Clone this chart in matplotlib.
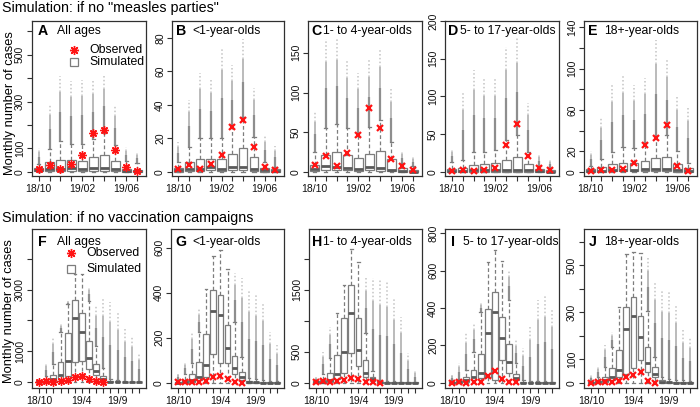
import matplotlib
matplotlib.use('Agg')
import matplotlib.pyplot as plt
import numpy as np

plt.rcParams['font.family'] = ['Liberation Sans', 'DejaVu Sans']

W, H = 700, 407

# ---------------- data ----------------
months_top = ['18/10', '18/11', '18/12', '19/01', '19/02', '19/03', '19/04', '19/05', '19/06', '19/07']
months_bot = ['18/10', '18/11', '18/12', '19/1', '19/2', '19/3', '19/4', '19/5', '19/6', '19/7',
              '19/8', '19/9', '19/10', '19/11', '19/12']
top_shown = ['18/10', '19/02', '19/06']
bot_shown = ['18/10', '19/4', '19/9']

groups = ['All ages', '<1-year-olds', '1- to 4-year-olds', '5- to 17-year-olds', '18+-year-olds']

# observed monthly cases (18/10 .. 19/07)
obs_all = [10, 28, 13, 35, 70, 165, 180, 95, 20, 5]
obs_lt1 = [2, 4, 2, 5, 10, 27, 31, 15, 3, 1]
obs_1to4 = [9, 20, 8, 24, 47, 81, 56, 17, 8, 3]
obs_5to17 = [1, 2, 1, 3, 5, 36, 63, 21, 5, 2]
obs_18p = [1, 2, 2, 3, 9, 26, 33, 45, 6, 1]

# Simulation: no "measles parties"
A_q1 = [2, 3, 4, 4, 3, 4, 4, 2, 0, 0]
A_med = [6, 12, 12, 15, 12, 15, 15, 10, 3, 2]
A_q3 = [15, 40, 51, 51, 47, 63, 71, 47, 11, 8]
A_whi = [35, 98, 130, 118, 118, 140, 165, 113, 48, 37]
A_max = [100, 290, 410, 386, 393, 396, 419, 279, 105, 84]

B_q1 = [0, 0.5, 0.5, 1, 0.5, 1, 1, 0.5, 0, 0]
B_med = [1, 2, 2, 3, 2, 3, 3, 1.5, 1, 0.5]
B_q3 = [2.6, 6, 8, 8, 8, 11, 14, 9, 2.5, 1.5]
B_whi = [6, 15, 20, 20, 20, 26, 33, 21, 6, 3]
B_max = [17.6, 43, 59, 56, 74, 64, 79, 50, 22, 15.6]

C_q1 = [1, 2, 2, 2, 1, 2, 1, 1, 0, 0]
C_med = [4, 7, 6, 5, 4, 6, 5, 3, 1, 0.5]
C_q3 = [9, 22, 25, 21, 18, 23, 27, 16, 4.5, 2.5]
C_whi = [25, 55, 60, 55, 45, 57, 66, 38, 11, 7]
C_max = [76, 167, 168, 140, 125, 141, 154, 105, 26, 19]

D_q1 = [0, 0, 0, 0, 0, 0.5, 0.5, 0, 0, 0]
D_med = [1, 1, 2, 2, 2, 3, 3, 2, 1, 0.5]
D_q3 = [4, 5, 9, 10.6, 11.5, 16, 20, 10.6, 3.5, 2]
D_whi = [13, 16, 27, 27, 29, 42, 49, 27, 8, 5]
D_max = [31, 104, 135, 126, 124, 166, 177, 91, 24, 16]

E_q1 = [0, 0, 0.5, 0.5, 0.5, 0.5, 0.5, 0.5, 0, 0]
E_med = [1, 1, 2, 2, 2, 2.5, 3, 3, 2, 1]
E_q3 = [3, 5, 8, 9, 9, 11, 13.5, 14, 8, 4]
E_whi = [6, 13, 19, 24, 23, 28, 32, 36, 20, 9]
E_max = [20, 53, 84, 94, 84, 91, 128, 110, 73, 63]

# Simulation: no vaccination campaigns
F_q1 = [1, 5, 30, 90, 200, 650, 670, 430, 230, 55, 0, 0, 0, 0, 0]
F_med = [5, 15, 90, 230, 690, 2070, 1610, 780, 360, 110, 10, 5, 3, 2, 1]
F_q3 = [20, 40, 230, 660, 1590, 2670, 2230, 1340, 600, 200, 35, 20, 15, 10, 8]
F_whi = [35, 190, 600, 1630, 2520, 3510, 3510, 2640, 1170, 470, 90, 60, 40, 30, 20]
F_max = [90, 630, 1450, 1880, 2640, 3510, 3510, 3100, 2480, 2700, 2590, 2240, 1720, 1500, 930]

G_q1 = [0, 1, 4, 12, 27, 130, 86, 86, 38, 12, 0, 0, 0, 0, 0]
G_med = [1, 3, 12, 27, 77, 320, 300, 156, 64, 27, 3, 2, 1, 1, 0.5]
G_q3 = [4, 12, 38, 92, 216, 412, 390, 256, 119, 47, 7, 5, 4, 3, 2]
G_whi = [12, 41, 89, 227, 415, 563, 590, 505, 271, 115, 20, 15, 12, 10, 6]
G_max = [41, 93, 227, 326, 415, 563, 590, 505, 486, 464, 412, 390, 360, 227, 167]

H_q1 = [1, 3, 16, 54, 150, 473, 269, 97, 27, 0, 0, 0, 0, 0, 0]
H_med = [5, 10, 43, 134, 500, 1118, 527, 150, 54, 5, 2, 2, 1, 1, 1]
H_q3 = [20, 43, 150, 446, 1038, 1575, 1038, 366, 97, 16, 10, 8, 6, 5, 4]
H_whi = [43, 140, 403, 1118, 1575, 2150, 1952, 796, 194, 43, 30, 25, 18, 15, 12]
H_max = [97, 500, 903, 1118, 1575, 2150, 1952, 1699, 1683, 1667, 1629, 1344, 1054, 473, 204]

I_q1 = [0, 0, 5, 14, 23, 32, 14, 121, 50, 14, 0, 0, 0, 0, 0]
I_med = [1, 2, 14, 32, 50, 264, 380, 237, 109, 23, 1, 1, 1, 1, 0.5]
I_q3 = [4, 7, 29, 68, 154, 393, 488, 350, 205, 45, 4, 3, 3, 3, 2]
I_whi = [14, 21, 68, 166, 380, 648, 711, 654, 443, 104, 14, 10, 10, 8, 6]
I_max = [41, 104, 264, 318, 425, 648, 711, 654, 604, 229, 184, 300, 443, 470, 398]

J_q1 = [0, 0, 4, 11, 25, 39, 61, 99, 46, 25, 0, 0, 0, 0, 0]
J_med = [1, 2, 11, 25, 54, 230, 286, 194, 85, 39, 4, 2, 1, 1, 1]
J_q3 = [3, 8, 25, 61, 138, 321, 363, 286, 152, 68, 11, 5, 4, 3, 3]
J_whi = [8, 25, 68, 152, 321, 546, 558, 554, 307, 110, 25, 15, 12, 10, 8]
J_max = [32, 68, 162, 215, 321, 546, 558, 554, 532, 434, 392, 389, 335, 223, 194]

# y axes: ticks and tick labels
A_yt, A_ytl = [0, 100, 200, 300, 400, 500, 600], ['0', '100', '', '300', '', '500', '']
B_yt, B_ytl = [0, 20, 40, 60, 80], ['0', '20', '40', '60', '80']
C_yt, C_ytl = [0, 50, 100, 150], ['0', '50', '100', '150']
D_yt, D_ytl = [0, 50, 100, 150, 200], ['0', '50', '100', '150', '200']
E_yt, E_ytl = [0, 20, 40, 60, 80, 100, 120, 140], ['0', '20', '', '60', '', '100', '', '140']
F_yt, F_ytl = [0, 1000, 2000, 3000, 4000], ['0', '1000', '', '3000', '']
G_yt, G_ytl = [0, 200, 400, 600], ['0', '200', '400', '600']
H_yt, H_ytl = [0, 500, 1000, 1500, 2000], ['0', '500', '', '1500', '']
I_yt, I_ytl = [0, 200, 400, 600, 800], ['0', '200', '400', '600', '800']
J_yt, J_ytl = [0, 100, 200, 300, 400, 500, 600], ['0', '100', '', '300', '', '500', '']

ylims = {'A': (-18, 644), 'B': (-2.4, 90), 'C': (-5, 190), 'D': (-5.3, 200), 'E': (-3.9, 146),
         'F': (-195, 4970), 'G': (-23, 683), 'H': (-85, 2480), 'I': (-28, 823), 'J': (-22, 654)}

# ---------------- layout (pixels) ----------------
cols_top = [(32, 146), (172, 284), (308, 422), (445, 559), (584, 697)]
cols_bot = [(32, 146), (171, 284), (309, 422), (445, 559), (584, 697)]
row_top = (21, 176)
row_bot = (229, 388)

GRAY = '#7d7d7d'
MED = '#5a5a5a'
OUT = '#7a7a7a'
FRAME = '#303030'
RED = '#ff1414'

# fading of the outlier columns (style): fraction breakpoints, alpha, line width
FADE = [(0.0, 0.45, 0.85, 1.6, '-'), (0.45, 0.75, 0.55, 1.3, '-'), (0.75, 1.0, 0.45, 1.1, (0, (1, 1.5)))]

fig = plt.figure(figsize=(W / 100, H / 100), dpi=100)


def make_ax(xr, yr):
    return fig.add_axes([xr[0] / W, 1 - yr[1] / H, (xr[1] - xr[0]) / W, (yr[1] - yr[0]) / H])


def draw(ax, q1, med, q3, whi, omax, obs, marker, months, shown, xlim, yt, ytl, ylim, width):
    n = len(med)
    pos = np.arange(1, n + 1)
    q1, med, q3, whi, omax = map(np.asarray, (q1, med, q3, whi, omax))
    mask = omax > whi
    span = omax - whi
    for f0, f1, al, lw, ls in FADE:
        ax.vlines(pos[mask], (whi + f0 * span)[mask], (whi + f1 * span)[mask], color=OUT, lw=lw,
                  alpha=al, linestyles=ls, zorder=1)
    stats = [dict(med=m, q1=a, q3=b, whislo=0, whishi=w) for a, m, b, w in zip(q1, med, q3, whi)]
    ax.bxp(stats, positions=pos, widths=width, showfliers=False, patch_artist=True,
           boxprops=dict(facecolor='white', edgecolor=GRAY, linewidth=0.9),
           whiskerprops=dict(color=GRAY, linewidth=0.9, linestyle=(0, (3, 2))),
           capprops=dict(color=GRAY, linewidth=0.9),
           medianprops=dict(color=MED, linewidth=2.0, solid_capstyle='butt'),
           capwidths=width * 0.4, manage_ticks=False, zorder=2)
    opos = pos[:len(obs)]
    if marker == 'star':
        ax.plot(opos, obs, ls='none', marker=(8, 2, 0), ms=6, mew=1.0, color=RED, zorder=5)
    else:
        ax.plot(opos, obs, ls='none', marker='x', ms=4.2, mew=1.6, color=RED, zorder=5)
    ax.set_xlim(*xlim)
    ax.set_ylim(*ylim)
    ax.set_xticks(pos)
    ax.set_xticklabels([m if m in shown else '' for m in months])
    ax.set_yticks(yt)
    ax.set_yticklabels(ytl, rotation=90, va='center')
    ax.tick_params(direction='out', length=3.5, width=0.8, color=FRAME, labelsize=7.5, pad=1.5,
                   labelcolor='#111111')
    ax.tick_params(axis='x', pad=2.5)
    for s in ax.spines.values():
        s.set_color(FRAME)
        s.set_linewidth(0.9)


def label(ax, xr, yr, letter, desc, dl, dd, dy):
    wpx = xr[1] - xr[0]
    hpx = yr[1] - yr[0]
    ax.text(dl / wpx, 1 - dy / hpx, letter, transform=ax.transAxes, fontsize=10.2,
            fontweight='bold', ha='left', va='center', zorder=6)
    ax.text(dd / wpx, 1 - dy / hpx, desc, transform=ax.transAxes, fontsize=8.8,
            ha='left', va='center', zorder=6)


def legend(ax, xr, yr, mx, tx, y1, y2):
    wpx = xr[1] - xr[0]
    hpx = yr[1] - yr[0]
    ax.plot([mx / wpx], [1 - y1 / hpx], transform=ax.transAxes, marker=(8, 2, 0), ms=6.5,
            mew=1.0, color=RED, ls='none', zorder=6)
    ax.plot([mx / wpx], [1 - y2 / hpx], transform=ax.transAxes, marker='s', ms=5.5, mew=0.9,
            mfc='white', mec=GRAY, ls='none', zorder=6)
    ax.text(tx / wpx, 1 - y1 / hpx, 'Observed', transform=ax.transAxes, fontsize=8.8,
            ha='left', va='center', zorder=6)
    ax.text(tx / wpx, 1 - y2 / hpx, 'Simulated', transform=ax.transAxes, fontsize=8.8,
            ha='left', va='center', zorder=6)


top_data = [
    ('A', A_q1, A_med, A_q3, A_whi, A_max, obs_all, 'star', A_yt, A_ytl, (6, 25)),
    ('B', B_q1, B_med, B_q3, B_whi, B_max, obs_lt1, 'x', B_yt, B_ytl, (4, 20)),
    ('C', C_q1, C_med, C_q3, C_whi, C_max, obs_1to4, 'x', C_yt, C_ytl, (3, 15)),
    ('D', D_q1, D_med, D_q3, D_whi, D_max, obs_5to17, 'x', D_yt, D_ytl, (3, 15)),
    ('E', E_q1, E_med, E_q3, E_whi, E_max, obs_18p, 'x', E_yt, E_ytl, (4, 20)),
]
bot_data = [
    ('F', F_q1, F_med, F_q3, F_whi, F_max, obs_all, 'star', F_yt, F_ytl, (6, 25)),
    ('G', G_q1, G_med, G_q3, G_whi, G_max, obs_lt1, 'x', G_yt, G_ytl, (4, 21)),
    ('H', H_q1, H_med, H_q3, H_whi, H_max, obs_1to4, 'x', H_yt, H_ytl, (3, 14)),
    ('I', I_q1, I_med, I_q3, I_whi, I_max, obs_5to17, 'x', I_yt, I_ytl, (6, 18)),
    ('J', J_q1, J_med, J_q3, J_whi, J_max, obs_18p, 'x', J_yt, J_ytl, (5, 20)),
]

for i, (let, q1, med, q3, whi, mx, obs, mk, yt, ytl, offs) in enumerate(top_data):
    xr = cols_top[i]
    ax = make_ax(xr, row_top)
    draw(ax, q1, med, q3, whi, mx, obs, mk, months_top, top_shown, (0.4, 10.8), yt, ytl,
         ylims[let], 0.8)
    label(ax, xr, row_top, let, groups[i], offs[0], offs[1], 10)
    if i == 0:
        legend(ax, xr, row_top, 42, 57, 29, 41)

for i, (let, q1, med, q3, whi, mx, obs, mk, yt, ytl, offs) in enumerate(bot_data):
    xr = cols_bot[i]
    ax = make_ax(xr, row_bot)
    draw(ax, q1, med, q3, whi, mx, obs, mk, months_bot, bot_shown, (0, 16), yt, ytl,
         ylims[let], 0.82)
    label(ax, xr, row_bot, let, groups[i], offs[0], offs[1], 12.7)
    if i == 0:
        legend(ax, xr, row_bot, 39, 54, 24, 40)

fig.text(2 / W, 1 - 8 / H, 'Simulation: if no "measles parties"', fontsize=10.3, ha='left', va='center')
fig.text(2 / W, 1 - 218 / H, 'Simulation: if no vaccination campaigns', fontsize=10.3, ha='left', va='center')
fig.text(10 / W, 1 - 103.5 / H, 'Monthly number of cases', rotation=90, fontsize=9.3, ha='center', va='center')
fig.text(9.5 / W, 1 - 310.8 / H, 'Monthly number of cases', rotation=90, fontsize=9.3, ha='center', va='center')

fig.savefig('out.png', dpi=100)
